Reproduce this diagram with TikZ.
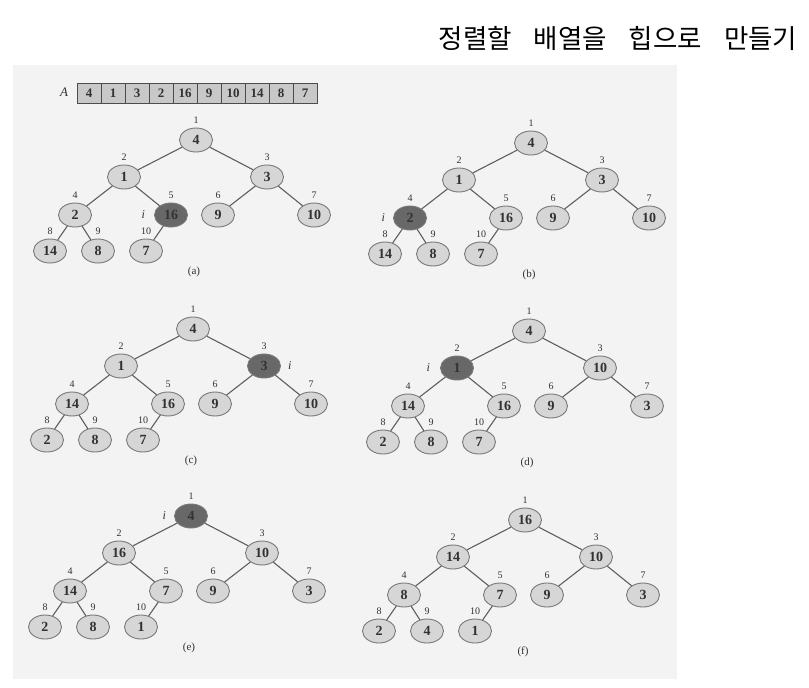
\documentclass[tikz,border=0pt]{standalone}
\usepackage{fontspec}
\setmainfont{Liberation Serif}
\newfontfamily\krfont[WordSpace=3.7]{Noto Sans CJK KR}
\usetikzlibrary{shapes.geometric,positioning,calc}
\definecolor{panel}{RGB}{243,243,243}
\definecolor{nodefill}{RGB}{214,214,214}
\definecolor{nodeline}{RGB}{120,120,120}
\definecolor{hotfill}{RGB}{104,104,104}
\definecolor{edgecol}{RGB}{95,95,95}
\definecolor{txt}{RGB}{50,50,50}
\definecolor{cellfill}{RGB}{200,200,200}
\tikzset{
 coldnode/.style={ellipse, draw=nodeline, fill=nodefill, line width=0.9pt, minimum width=33pt, minimum height=24pt, inner sep=0pt, font=\fontsize{14}{14}\selectfont\bfseries, text=txt},
 hotnode/.style={coldnode, fill=hotfill, text=black!80},
 idxlab/.style={font=\fontsize{10}{10}\selectfont, text=txt, inner sep=0pt},
 linkline/.style={draw=edgecol, line width=1.1pt},
 captext/.style={font=\fontsize{11}{11}\selectfont, text=txt},
 ilab/.style={font=\fontsize{12}{12}\selectfont\itshape, text=txt, inner sep=0pt},
 cellbox/.style={draw=black!70, fill=cellfill, minimum width=24pt, minimum height=20pt, inner sep=0pt, font=\fontsize{13}{13}\selectfont\bfseries, text=txt, line width=0.8pt},
}
\newcommand{\heaptree}[4]{%
  \foreach \v [count=\k] in {#2} {%
    \pgfmathsetmacro\hdx{{0,-72,71,-121,-25,22,118,-146,-98,-50}[\k-1]}%
    \pgfmathsetmacro\hdy{{0,37,37,75,75,75,75,111,111,111}[\k-1]}%
    \ifnum\k=#3\relax\def\hst{hotnode}\else\def\hst{coldnode}\fi
    \node[\hst] (#1\k) at (\hdx,\hdy) {\v};
    \node[idxlab, above=3.5pt of #1\k] (#1n\k) {\k};
  }%
  \foreach \c in {2,...,10} {%
    \pgfmathtruncatemacro\hp{\c/2}%
    \draw[linkline] (#1\hp) -- (#1\c);
  }%
  \node[captext] (#1cap) at (-2,132) {(#4)};
}
\begin{document}
\begin{tikzpicture}[x=1pt,y=-1pt]
\useasboundingbox (0,0) rectangle (809,688);
\node[font=\krfont\fontsize{26.5}{26.5}\selectfont, text=black, inner sep=0pt] (title) at (618,38) {정렬할 배열을 힙으로 만들기};
\fill[panel] (13,65) rectangle (677,679);
% array
\node[font=\fontsize{13}{13}\selectfont\itshape, text=txt] (arrA) at (64,92) {A};
\foreach \v [count=\k] in {4,1,3,2,16,9,10,14,8,7}
  \node[cellbox] (arr\k) at ({65+24*\k},93) {\v};
% (a)
\begin{scope}[shift={(196,140)}]
  \heaptree{a}{4,1,3,2,16,9,10,14,8,7}{5}{a}
  \node[ilab, left=9pt of a5] (ai) {i};
\end{scope}
% (b)
\begin{scope}[shift={(531,143)}]
  \heaptree{b}{4,1,3,2,16,9,10,14,8,7}{4}{b}
  \node[ilab, left=8pt of b4] (bi) {i};
\end{scope}
% (c)
\begin{scope}[shift={(193,329)}]
  \heaptree{c}{4,1,3,14,16,9,10,2,8,7}{3}{c}
  \node[ilab, right=7pt of c3] (ci) {i};
\end{scope}
% (d)
\begin{scope}[shift={(529,331)}]
  \heaptree{d}{4,1,10,14,16,9,3,2,8,7}{2}{d}
  \node[ilab, left=10pt of d2] (di) {i};
\end{scope}
% (e)
\begin{scope}[shift={(191,516)}]
  \heaptree{e}{4,16,10,14,7,9,3,2,8,1}{1}{e}
  \node[ilab, left=8pt of e1] (ei) {i};
\end{scope}
% (f)
\begin{scope}[shift={(525,520)}]
  \heaptree{f}{16,14,10,8,7,9,3,2,4,1}{0}{f}
\end{scope}
\end{tikzpicture}
\end{document}
